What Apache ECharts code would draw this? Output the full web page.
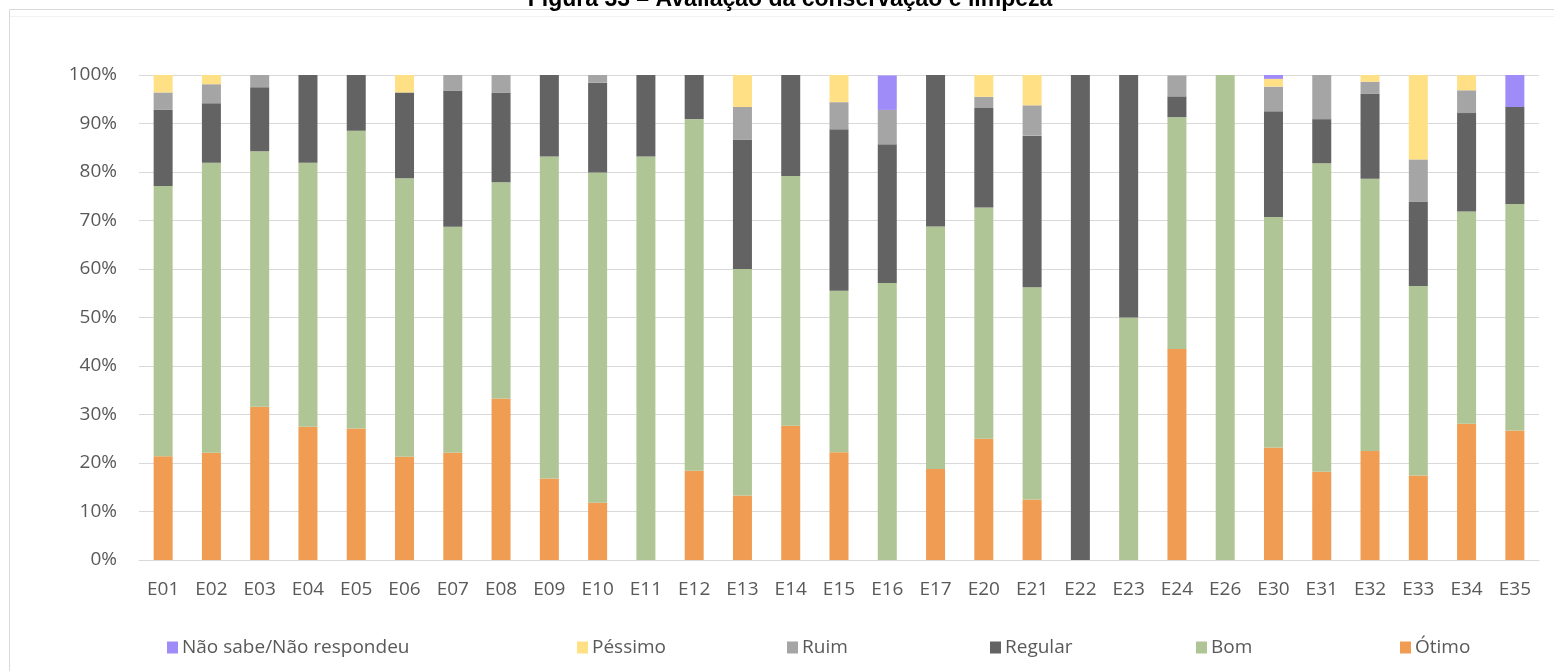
<!DOCTYPE html>
<html>
<head>
<meta charset="utf-8">
<script src="https://cdn.jsdelivr.net/npm/echarts@6/dist/echarts.min.js"></script>
<style>
html,body{margin:0;padding:0;background:#fff;}
#chart{width:1554px;height:671px;}
</style>
</head>
<body>
<div id="chart"></div>
<script>
const titleText = 'Figura 33 – Avaliação da conservação e limpeza';
const categories = ['E01','E02','E03','E04','E05','E06','E07','E08','E09','E10','E11','E12','E13','E14','E15','E16','E17','E20','E21','E22','E23','E24','E26','E30','E31','E32','E33','E34','E35'];
const otimo   = [21.4,22.1,31.6,27.5,27.1,21.3,22.1,33.3,16.8,11.8,0,18.4,13.3,27.7,22.2,0,18.75,25.0,12.5,0,0,43.5,0,23.2,18.2,22.5,17.4,28.1,26.7];
const bom     = [55.7,59.8,52.7,54.4,61.4,57.4,46.6,44.6,66.4,68.1,83.2,72.5,46.7,51.5,33.3,57.1,50.0,47.7,43.75,0,50.0,47.8,100,47.5,63.6,56.1,39.1,43.75,46.7];
const regular = [15.7,12.3,13.2,18.1,11.5,17.7,28.1,18.5,16.8,18.5,16.8,9.1,26.7,20.8,33.3,28.6,31.25,20.5,31.25,100,50.0,4.3,0,21.8,9.1,17.6,17.4,20.3,20.0];
const ruim    = [3.6,3.9,2.5,0,0,0,3.2,3.6,0,1.6,0,0,6.7,0,5.6,7.1,0,2.3,6.25,0,0,4.3,0,5.1,9.1,2.4,8.7,4.7,0];
const pessimo = [3.6,1.9,0,0,0,3.6,0,0,0,0,0,0,6.6,0,5.6,0,0,4.5,6.25,0,0,0,0,1.6,0,1.4,17.4,3.1,0];
const naoSabe = [0,0,0,0,0,0,0,0,0,0,0,0,0,0,0,7.1,0,0,0,0,0,0,0,0.8,0,0,0,0,6.6];
const seriesNames = ['Ótimo','Bom','Regular','Ruim','Péssimo','Não sabe/Não respondeu'];
const seriesData = [otimo, bom, regular, ruim, pessimo, naoSabe];
const colors = ['#F09C52','#B0C595','#636363','#A5A5A5','#FFE085','#A08CF8'];
const legendOrder = ['Não sabe/Não respondeu','Péssimo','Ruim','Regular','Bom','Ótimo'];
const legendLeft = [162,572,782,985,1191,1395];

const font = 'Open Sans';
const chart = echarts.init(document.getElementById('chart'));
chart.setOption({
  animation: false,
  backgroundColor: '#fff',
  graphic: [
    {type:'rect', shape:{x:9.5,y:9.5,width:1600,height:700}, style:{fill:'none', stroke:'#d9d9d9', lineWidth:1}, silent:true},
    {type:'line', shape:{x1:10,y1:16.5,x2:1554,y2:16.5}, style:{stroke:'#f2f2f2', lineWidth:1}, silent:true},
    {type:'text', x:790, y:0, style:{text:titleText, font:'bold 23px "Liberation Sans", Arial, sans-serif', fill:'#000', align:'center', verticalAlign:'middle'}, silent:true}
  ],
  grid: {left:139, right:15, top:75, bottom:111, containLabel:false},
  legend: legendOrder.map((n,i)=>({
    data:[n], left:legendLeft[i], top:633, icon:'rect', itemWidth:11, itemHeight:12, itemGap:0,
    textStyle:{fontFamily:font, fontSize:19, color:'#595959', padding:[0,0,0,-1]},
    selectedMode:false
  })),
  xAxis: {
    type:'category', data:categories,
    axisLine:{show:true, lineStyle:{color:'#d9d9d9'}},
    axisTick:{show:false},
    axisLabel:{fontFamily:font, fontSize:19, color:'#595959', margin:20, interval:0}
  },
  yAxis: {
    type:'value', min:0, max:100, interval:10,
    axisLine:{show:false}, axisTick:{show:false},
    splitLine:{lineStyle:{color:'#d9d9d9', width:1}},
    axisLabel:{fontFamily:font, fontSize:19, color:'#595959', margin:22, formatter:'{value}%'}
  },
  series: seriesNames.map((n,i)=>({
    name:n, type:'bar', stack:'total', barWidth:19,
    itemStyle:{color:colors[i]},
    data:seriesData[i]
  }))
});
</script>
</body>
</html>
